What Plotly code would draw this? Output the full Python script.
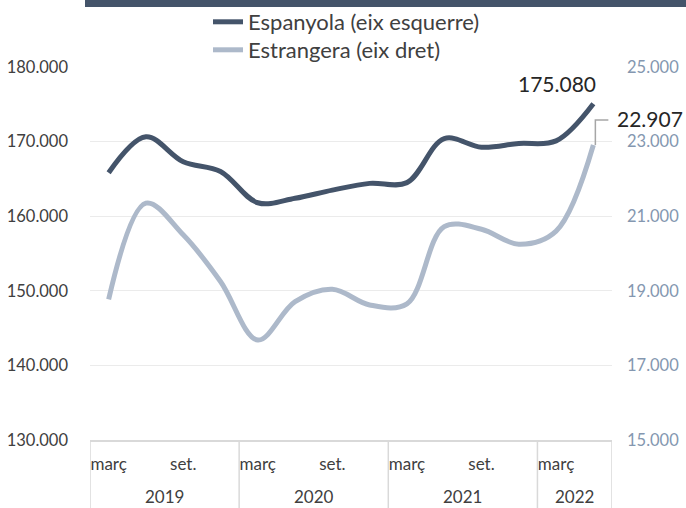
import plotly.graph_objects as go

# ---- data ----
quarters = ["març", "juny", "set.", "des.",
            "març", "juny", "set.", "des.",
            "març", "juny", "set.", "des.",
            "març", "juny"]
years = [2019, 2019, 2019, 2019,
         2020, 2020, 2020, 2020,
         2021, 2021, 2021, 2021,
         2022, 2022]
espanyola = [165830, 170650, 167300, 166000,
             161800, 162400, 163500, 164400,
             164500, 170400, 169250, 169750,
             170100, 175080]
estrangera = [18770, 21350, 20500, 19250,
              17680, 18710, 19040, 18620,
              18650, 20720, 20650, 20250,
              20600, 22907]
shown_quarters = ["març", "set."]
left_ticks = [130000, 140000, 150000, 160000, 170000, 180000]
right_ticks = [15000, 17000, 19000, 21000, 23000, 25000]

# ---- style ----
DARK = "#44546a"
LIGHT = "#adb9ca"
RIGHT_TXT = "#8497b0"
TXT = "#404040"
GRID = "#ebebeb"
AXIS = "#d9d9d9"
FONT = "Lato"

W, H = 686, 508
ML, MT = 90, 67
plot_w, plot_h = 522, 373
MR = W - ML - plot_w
MB = H - MT - plot_h

x = list(range(len(quarters)))

fig = go.Figure()
fig.add_trace(go.Scatter(
    x=x, y=espanyola, name="Espanyola (eix esquerre)", mode="lines",
    line=dict(color=DARK, width=5, shape="spline", smoothing=1.0),
    yaxis="y", legend="legend"))
fig.add_trace(go.Scatter(
    x=x, y=estrangera, name="Estrangera (eix dret)", mode="lines",
    line=dict(color=LIGHT, width=5, shape="spline", smoothing=1.0),
    yaxis="y2", legend="legend2"))

tickvals = [i for i, q in enumerate(quarters) if q in shown_quarters]
ticktext = [quarters[i] for i in tickvals]

# year dividers and labels
bounds = [-0.5]
for i in range(1, len(years)):
    if years[i] != years[i - 1]:
        bounds.append(i - 0.5)
bounds.append(len(years) - 0.5)
bottom_paper = -(MB + 2) / plot_h
for b in bounds:
    fig.add_shape(type="line", xref="x", yref="paper", x0=b, x1=b,
                  y0=0, y1=bottom_paper, line=dict(color=AXIS, width=1.5))
for a, b in zip(bounds[:-1], bounds[1:]):
    yr = years[int(a + 0.5)]
    fig.add_annotation(x=(a + b) / 2, xref="x", y=-57 / plot_h, yref="paper",
                       text=str(yr), showarrow=False,
                       font=dict(family=FONT, size=17, color=TXT),
                       yanchor="middle")

# top decorative bar
fig.add_shape(type="rect", xref="paper", yref="paper",
              x0=-5 / plot_w, x1=(W - ML + 10) / plot_w,
              y0=1 + (MT - 7) / plot_h, y1=1 + (MT + 10) / plot_h,
              fillcolor=DARK, line=dict(width=0))

# data labels
n = len(x) - 1
fig.add_annotation(x=x[n], y=espanyola[n], xref="x", yref="y",
                   text="175.080", showarrow=False,
                   xanchor="center", yanchor="middle",
                   xshift=-36, yshift=20,
                   font=dict(family=FONT, size=21, color="#262626"))
fig.add_annotation(x=x[n], y=estrangera[n], xref="x", yref="y2",
                   text="22.907", showarrow=False,
                   xanchor="left", yanchor="middle",
                   xshift=22, yshift=27,
                   font=dict(family=FONT, size=21, color="#262626"))
fig.add_shape(type="path", xref="x", yref="y2",
              xsizemode="pixel", ysizemode="pixel",
              xanchor=x[n], yanchor=estrangera[n],
              path="M 2,0 L 2,25 L 15,25",
              line=dict(color="#a6a6a6", width=1.5))

leg_common = dict(xref="container", yref="container", xanchor="left",
                  yanchor="middle", bgcolor="rgba(0,0,0,0)",
                  font=dict(family=FONT, size=22, color=TXT))

fig.update_layout(
    width=W, height=H,
    margin=dict(l=ML, r=MR, t=MT, b=MB, autoexpand=False),
    paper_bgcolor="white", plot_bgcolor="white",
    separators=",.",
    showlegend=True,
    legend=dict(x=208 / W, y=1 - 22 / H, **leg_common),
    legend2=dict(x=208 / W, y=1 - 50 / H, **leg_common),
    xaxis=dict(range=[-0.5, len(x) - 0.5], tickvals=tickvals, ticktext=ticktext,
               showgrid=False, zeroline=False, showline=True,
               linecolor=AXIS, linewidth=1.5, ticks="", automargin=False,
               tickfont=dict(family=FONT, size=17, color=TXT),
               ticklabelstandoff=8),
    yaxis=dict(range=[130000, 180000], tickvals=left_ticks, tickformat=",d",
               showgrid=True, gridcolor=GRID, gridwidth=1, automargin=False,
               zeroline=False, showline=False, ticks="",
               tickfont=dict(family=FONT, size=16.5, color=TXT),
               ticklabelstandoff=21),
    yaxis2=dict(range=[15000, 25000], tickvals=right_ticks, tickformat=",d",
                overlaying="y", side="right", showgrid=False, automargin=False,
                zeroline=False, showline=False, ticks="",
                tickfont=dict(family=FONT, size=16.5, color=RIGHT_TXT),
                ticklabelstandoff=14),
    hovermode=False,
)

fig.write_html("out.html",
               config={"displayModeBar": False},
               post_script="document.body.style.margin='0';")
